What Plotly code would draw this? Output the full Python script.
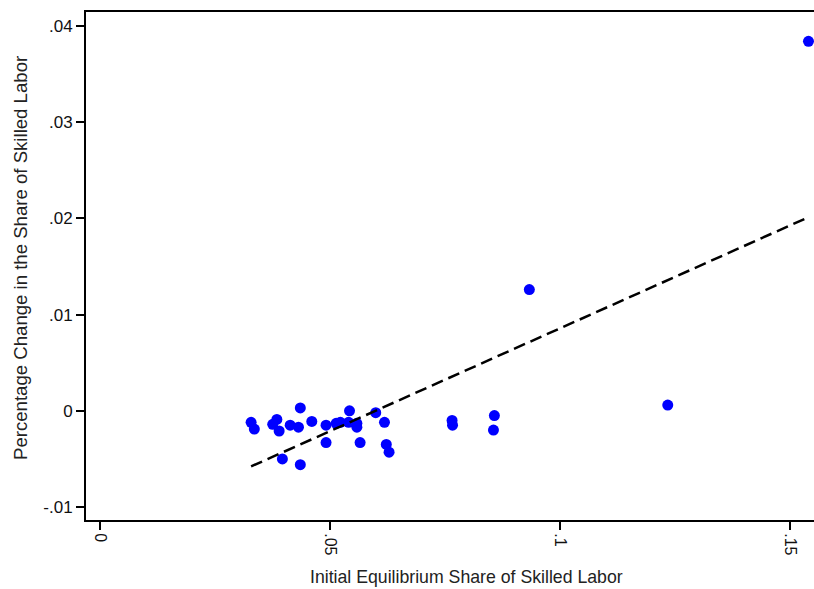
import numpy as np
import plotly.graph_objects as go

# Initial equilibrium share of skilled labor (x) and percentage change (y)
share_initial = [0.0328, 0.0335, 0.0375, 0.0384, 0.0389, 0.0413, 0.0431, 0.0435,
                 0.0396, 0.0435, 0.0460, 0.0491, 0.0491, 0.0513, 0.0522, 0.0542,
                 0.0540, 0.0558, 0.0558, 0.0565, 0.0599, 0.0618, 0.0622, 0.0628,
                 0.0765, 0.0766, 0.0857, 0.0855, 0.0933, 0.1234, 0.1540]
pct_change = [-0.0012, -0.0019, -0.0014, -0.0009, -0.0021, -0.0015, -0.0017, 0.0003,
              -0.0050, -0.0056, -0.0011, -0.0015, -0.0033, -0.0013, -0.0012, 0.0000,
              -0.0012, -0.0013, -0.0017, -0.0033, -0.0002, -0.0012, -0.0035, -0.0043,
              -0.0010, -0.0015, -0.0005, -0.0020, 0.0126, 0.0006, 0.0384]

x_tickvals = [0, 0.05, 0.1, 0.15]
x_ticktext = ["0", ".05", ".1", ".15"]
y_tickvals = [-0.01, 0, 0.01, 0.02, 0.03, 0.04]
y_ticktext = ["-.01", "0", ".01", ".02", ".03", ".04"]

x_title = "Initial Equilibrium Share of Skilled Labor"
y_title = "Percentage Change in the Share of Skilled Labor"

xs = np.array(share_initial)
ys = np.array(pct_change)
slope, intercept = np.polyfit(xs, ys, 1)
fit_x = np.array([xs.min(), xs.max()])
fit_y = intercept + slope * fit_x

fig = go.Figure()
fig.add_trace(go.Scatter(x=share_initial, y=pct_change, mode="markers",
                         marker=dict(color="#0000FF", size=11, line=dict(width=0)),
                         showlegend=False))
fig.add_trace(go.Scatter(x=fit_x, y=fit_y, mode="lines",
                         line=dict(color="black", width=2.5, dash="12px,6px"),
                         showlegend=False))

font_family = "Liberation Sans, Arial, sans-serif"
fig.update_layout(
    width=814, height=589,
    margin=dict(l=86, r=0, t=12, b=69),
    paper_bgcolor="white", plot_bgcolor="white",
    font=dict(family=font_family, size=16, color="#111"),
    xaxis=dict(range=[-0.0031, 0.1552], tickvals=x_tickvals, ticktext=x_ticktext,
               tickangle=90, ticks="outside", ticklen=8, tickwidth=2, tickcolor="black",
               tickfont=dict(size=16),
               showline=True, linecolor="black", linewidth=2, mirror=True,
               showgrid=False, zeroline=False),
    yaxis=dict(range=[-0.01135, 0.04145], tickvals=y_tickvals, ticktext=y_ticktext,
               ticks="outside", ticklen=8, tickwidth=2, tickcolor="black",
               tickfont=dict(size=17),
               showline=True, linecolor="black", linewidth=2, mirror=False,
               showgrid=False, zeroline=False),
    annotations=[
        dict(text=x_title, xref="paper", yref="paper",
             x=(466 - 86) / 728, y=-(577 - 520) / 508,
             xanchor="center", yanchor="middle", showarrow=False,
             font=dict(size=17.7, color="#222")),
        dict(text=y_title, xref="paper", yref="paper",
             x=-(86 - 20) / 728, y=(520 - 258) / 508, textangle=-90,
             xanchor="center", yanchor="middle", showarrow=False,
             font=dict(size=18.6, color="#222")),
    ],
)
fig.write_html("out.html")
